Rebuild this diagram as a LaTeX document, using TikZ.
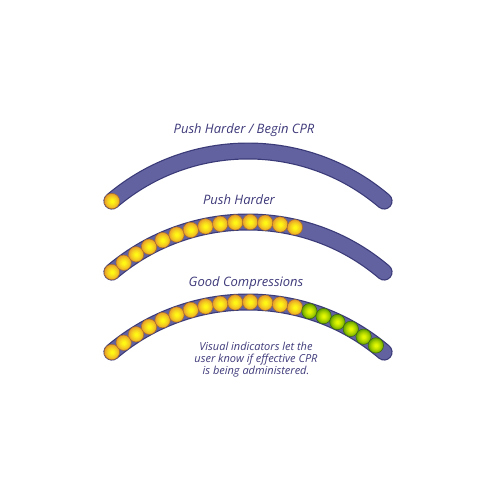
\documentclass[tikz,border=0pt]{standalone}
\usepackage{fontspec}
\setsansfont{Open Sans}
\usetikzlibrary{calc}

\definecolor{bandfill}{RGB}{98,98,160}
\definecolor{bandedge}{RGB}{58,58,120}
\definecolor{labeltext}{RGB}{62,58,122}
\definecolor{yelcore}{RGB}{255,248,20}
\definecolor{yelrim}{RGB}{232,160,44}
\definecolor{yeledge}{RGB}{170,108,40}
\definecolor{grncore}{RGB}{226,248,0}
\definecolor{grnrim}{RGB}{104,164,0}
\definecolor{grnedge}{RGB}{58,100,16}

\pgfdeclareradialshading{yelshade}{\pgfpoint{0bp}{0bp}}{color(0bp)=(yelcore); color(4bp)=(yelcore); color(16bp)=(yelrim!50!yelcore); color(24bp)=(yelrim); color(50bp)=(yelrim)}
\pgfdeclareradialshading{grnshade}{\pgfpoint{0bp}{0bp}}{color(0bp)=(grncore); color(4bp)=(grncore); color(16bp)=(grnrim!50!grncore); color(24bp)=(grnrim); color(50bp)=(grnrim)}

\begin{document}
\begin{tikzpicture}[x=1pt,y=-1pt,
	band/.style={line cap=round, line width=17pt, draw=bandedge},
	bandcore/.style={line cap=round, line width=14.6pt, draw=bandfill},
	lamp/.style={circle, inner sep=0pt, minimum size=15.4pt, line width=0.5pt},
	yellamp/.style={lamp, draw=yeledge, shading=yelshade},
	grnlamp/.style={lamp, draw=grnedge, shading=grnshade},
	title/.style={font=\sffamily\itshape\fontsize{13}{15}\selectfont, text=labeltext},
	note/.style={font=\sffamily\itshape\fontsize{11}{12}\selectfont, text=labeltext, align=center}]
	
	\useasboundingbox (0,0) rectangle (500,500);
	
	%centres of the three bars
	\coordinate (cA) at (248,361);
	\coordinate (cB) at (248,432);
	\coordinate (cC) at (248,512);
	
	%bars
	\foreach \c in {cA,cB,cC}{
		\draw[band] (\c) ++(-130.4:210) arc[start angle=-130.4, end angle=-49.6, radius=210];
		\draw[bandcore] (\c) ++(-130.4:210) arc[start angle=-130.4, end angle=-49.6, radius=210];
	}
	
	%lamps
	\node[yellamp] (lampA0) at ($(cA)+(-130.4:210)$) {};
	\foreach \k in {0,...,13}
		\node[yellamp] (lampB\k) at ($(cB)+(-130.4+4.1*\k:210)$) {};
	\foreach \k in {0,...,13}
		\node[yellamp] (lampC\k) at ($(cC)+(-130.4+4.1*\k:210)$) {};
	\foreach \k in {14,...,19}
		\node[grnlamp] (lampC\k) at ($(cC)+(-130.4+4.1*\k:210)$) {};
	
	%labels
	\node[title] (hdrA) at (244,130) {Push Harder / Begin CPR};
	\node[title] (hdrB) at (239,200) {Push Harder};
	\node[title] (hdrC) at (246,283) {Good Compressions};
	\node[note] (caption) at (256,360) {Visual indicators let the\\user know if effective CPR\\is being administered.};
	
\end{tikzpicture}
\end{document}
